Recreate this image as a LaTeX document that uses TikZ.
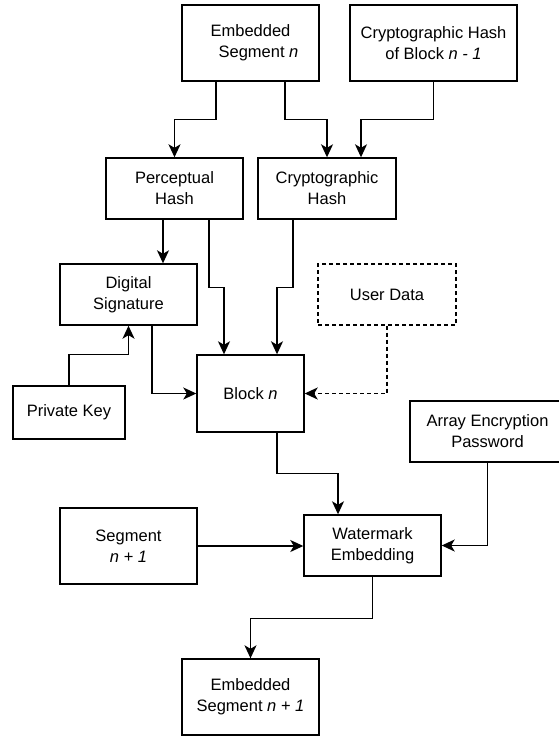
\documentclass[tikz,border=0pt]{standalone}
\usepackage{fontspec}
\setmainfont{Liberation Sans}
\usetikzlibrary{arrows.meta,calc}
\begin{document}
\begin{tikzpicture}[x=1pt,y=-1pt,
  box/.style={draw=black,line width=1.4pt,fill=white,rectangle,inner sep=0pt,align=center,
    font=\fontsize{16.5}{21}\selectfont,text=black},
  dbox/.style={box,dash pattern=on 4pt off 3pt},
  arr/.style={draw=black,line width=1.4pt,-{Stealth[length=13pt,width=12pt,inset=3.5pt]}},
  darr/.style={arr,dash pattern=on 4pt off 3pt}]
\useasboundingbox (0,0) rectangle (559,736);
\node[box,minimum width=137pt,minimum height=76pt] (esn) at (250.5,43) {Embedded\\\hspace*{16pt}Segment \textit{n}};
\node[box,minimum width=167pt,minimum height=76pt] (chb) at (433.5,43) {Cryptographic Hash\\of Block \textit{n - 1}};
\node[box,minimum width=137pt,minimum height=61pt] (ph) at (174.5,188.5) {Perceptual\\Hash};
\node[box,minimum width=138pt,minimum height=61pt] (ch) at (327,188.5) {Cryptographic\\Hash};
\node[box,minimum width=137pt,minimum height=61pt] (ds) at (128.5,294.5) {Digital\\Signature};
\node[dbox,minimum width=138pt,minimum height=61pt] (ud) at (387,294.5) {User Data};
\node[box,minimum width=107pt,minimum height=77pt] (blk) at (250.5,393.5) {Block \textit{n}};
\node[box,minimum width=112pt,minimum height=53pt] (pk) at (69,412.5) {Private Key};
\node[box,minimum width=155pt,minimum height=61pt] (aep) at (487.5,431.5) {Array Encryption\\Password};
\node[box,minimum width=137pt,minimum height=76pt] (seg) at (128.5,546) {Segment\\\textit{n + 1}};
\node[box,minimum width=137pt,minimum height=61pt] (we) at (372.5,545.5) {Watermark\\Embedding};
\node[box,minimum width=137pt,minimum height=76pt] (esn1) at (250.5,697) {Embedded\\Segment \textit{n + 1}};

\draw[arr] ([xshift=-34.5pt]esn.south) -- ++(0,38) -| (ph.north);
\draw[arr] ([xshift=34.5pt]esn.south) -- ++(0,38) -| (ch.north);
\draw[arr] (chb.south) -- ++(0,38) -| ([xshift=34pt]ch.north);
\draw[arr] ([xshift=-11.5pt]ph.south) -- ([xshift=34.5pt]ds.north);
\draw[arr] ([xshift=34.5pt]ph.south) -- ++(0,68) -| ([xshift=-26.5pt]blk.north);
\draw[arr] ([xshift=-34pt]ch.south) -- ++(0,68) -| ([xshift=26.5pt]blk.north);
\draw[arr] (pk.north) -- ++(0,-31) -| (ds.south);
\draw[arr] ([xshift=23.5pt]ds.south) |- (blk.west);
\draw[darr] (ud.south) |- (blk.east);
\draw[arr] ([xshift=26.5pt]blk.south) -- ++(0,41) -| ([xshift=-34.5pt]we.north);
\draw[arr] (seg.east) -- (seg.east -| we.west);
\draw[arr] (aep.south) |- (we.east);
\draw[arr] (we.south) -- ++(0,42) -| (esn1.north);
\end{tikzpicture}
\end{document}
